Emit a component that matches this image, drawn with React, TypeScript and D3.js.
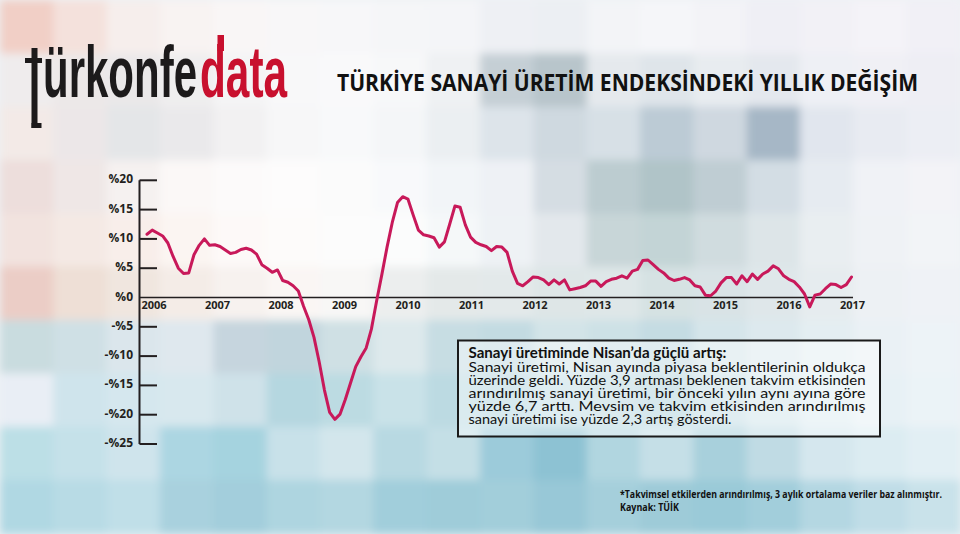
import React from "react";
import * as d3 from "d3";

// Monthly year-on-year change (%), Jan 2006 – Apr 2017
const values: number[] = [
  10.8, 11.5, 11.0, 10.5, 9.3, 7.0, 5.0, 4.1, 4.2, 7.3, 8.9, 10.0,
  8.9, 9.0, 8.7, 8.1, 7.5, 7.7, 8.2, 8.4, 8.1, 7.4, 5.6, 5.0,
  4.3, 4.7, 2.9, 2.6, 2.0, 1.1, -1.5, -3.8, -6.8, -11.0, -15.8, -19.6,
  -20.8, -19.9, -17.4, -14.6, -11.8, -10.1, -8.6, -5.4, -0.6, 3.9, 8.6, 12.8,
  16.2, 17.2, 16.8, 14.1, 11.5, 10.7, 10.5, 10.2, 8.6, 9.5, 12.5, 15.6,
  15.4, 12.4, 10.3, 9.4, 9.0, 8.7, 8.0, 8.7, 8.6, 7.7, 4.5, 2.4,
  2.0, 2.7, 3.5, 3.4, 3.0, 2.2, 3.0, 2.3, 3.0, 1.3, 1.5, 1.7,
  2.0, 2.8, 2.8, 1.9, 2.7, 3.1, 3.3, 3.7, 3.3, 4.5, 4.8, 6.3,
  6.4, 5.6, 4.8, 4.2, 3.3, 2.9, 3.1, 3.4, 3.0, 2.0, 1.8, 0.4,
  0.3, 1.1, 2.5, 3.4, 3.4, 2.3, 3.7, 2.7, 4.0, 3.1, 4.0, 4.5,
  5.4, 4.9, 3.7, 3.1, 2.7, 1.8, 0.6, -1.6, 0.4, 0.6, 1.5, 2.3,
  2.2, 1.7, 2.2, 3.5,
];

const yearLabels: number[] = [2006, 2007, 2008, 2009, 2010, 2011, 2012, 2013, 2014, 2015, 2016, 2017];
const yTicks: number[] = [20, 15, 10, 5, 0, -5, -10, -15, -20, -25];

const title = "TÜRKİYE SANAYİ ÜRETİM ENDEKSİNDEKİ YILLIK DEĞİŞİM";
const boxHeading = "Sanayi üretiminde Nisan’da güçlü artış:";
const boxLines: string[] = [
  "Sanayi üretimi, Nisan ayında piyasa beklentilerinin oldukça",
  "üzerinde geldi. Yüzde 3,9 artması beklenen takvim etkisinden",
  "arındırılmış sanayi üretimi, bir önceki yılın aynı ayına göre",
  "yüzde 6,7 arttı. Mevsim ve takvim etkisinden arındırılmış",
  "sanayi üretimi ise yüzde 2,3 artış gösterdi.",
];
const footnote = "*Takvimsel etkilerden arındırılmış, 3 aylık ortalama veriler baz alınmıştır.";
const source = "Kaynak: TÜİK";

// Decorative mosaic background colours (10 rows x 18 columns)
const mosaic: string[][] = [
  ["#f1cfc6","#f4e1dc","#f6eeec","#f8f3f2","#f9f6f6","#f8f7f8","#f7f7f9","#f5f6f8","#f4f5f8","#eef0f4","#eceff3","#f3f4f7","#f5f6f9","#f3f3f7","#efeff5","#f2f1f6","#f4f3f8","#f1f0f6"],
  ["#efeced","#ece8e8","#eae8e9","#efeeef","#f4f4f5","#f8f8f9","#f9f9fa","#f7f8f9","#eff1f3","#c5cfd5","#b8c5cb","#e5e9ed","#dfe5ea","#e8ecf0","#e4e8ee","#eef0f5","#f0f0f5","#eeeef4"],
  ["#f3eae7","#ece7e8","#e4e6e8","#eae9eb","#f2f1f2","#f7f7f8","#f8f9fa","#f4f6f8","#ebeff2","#dde4ea","#cfd9e0","#d7e0e6","#bccbd5","#cfd8e0","#a6b7c6","#e1e6ee","#e8ebf2","#eceef4"],
  ["#eddedc","#efe7e6","#f5f1f0","#fbf8f7","#fcfafa","#fdfcfc","#fbfbfb","#f8f9fb","#f2f5f8","#eef1f5","#d5dde3","#bcccd0","#b0c4c8","#bfcdd3","#d3dde4","#e6ebf1","#f0f2f6","#f3f3f7"],
  ["#f2e3df","#f4e9e4","#f8eeea","#fbf5f2","#fdf9f8","#fdfbfa","#fcfcfc","#fbfcfc","#f5f8f9","#eef2f5","#e3e8ec","#c8d6d8","#c3d4d6","#d0dcdf","#dde5e8","#e9eef1","#eff2f5","#f2f4f7"],
  ["#ebcdc6","#eedfd6","#f0e6df","#f4ece7","#f7f2ef","#faf6f4","#f8f7f6","#eceeee","#e4e9e9","#e3e9ea","#dee6e7","#dfe7e8","#d6e2e3","#d9e3e6","#dfe7ea","#e6ecef","#edf1f4","#eff2f6"],
  ["#c9dcdf","#cfe0e5","#dbe6ec","#dfe8ee","#c6d5de","#c1d5dd","#cfe0e4","#dde9ec","#c7dde3","#c3dbe2","#d3e4e8","#cde1e6","#c5dce3","#d5e5ea","#dde9ee","#e4eef2","#eaf1f5","#edf3f7"],
  ["#e9eef5","#cfe4ec","#d5e7ee","#d8e8ee","#cfe2e9","#b5d7e0","#bcdbe2","#c9e2e8","#bcdae2","#b7d7e0","#c4dee5","#bdd9e1","#b5d5de","#c7dfe6","#d4e6ec","#dfedf2","#e7f1f5","#ebf3f7"],
  ["#bcdfe6","#c5e1e9","#cfe4ec","#acd6e2","#a5d3df","#c8e1e9","#d3e6ec","#b8d9e2","#c4dfe6","#9ccbda","#8dc2d3","#b1d6e0","#c5dfe7","#a8d0dc","#c0dbe4","#d5e7ee","#dcecf2","#e2eff4"],
  ["#b0d8e3","#b8dbe5","#c0dfe8","#a9d1de","#a3cedc","#aed5e0","#b3d7e1","#a1cedb","#9fccd9","#a2ceda","#98c8d7","#a5cfdb","#9ecbd8","#9acad8","#a2cedb","#b4d7e2","#c0dde7","#c9e2ea"],
];

export default function App() {
  const W = 960, H = 534;
  const cell = W / 18;

  const x = d3.scaleLinear().domain([0, values.length - 1]).range([147, 851.5]);
  const xYear = d3.scaleLinear().domain([2006, 2017]).range([154, 852.5]);
  const y = d3.scaleLinear().domain([-25, 20]).range([444, 180.3]);

  const line = d3
    .line<number>()
    .x((_, i) => x(i))
    .y((d) => y(d))
    .curve(d3.curveLinear);

  const axisX = 139.5;
  const dark = "#231f20";
  const font = "'Open Sans', 'Noto Sans', sans-serif";
  const logoFont = "'Liberation Sans Narrow', 'Liberation Sans', Arial, sans-serif";

  return (
    <svg
      width={W}
      height={H}
      viewBox={`0 0 ${W} ${H}`}
      style={{ position: "absolute", left: 0, top: 0, display: "block" }}
    >
      <defs>
        <filter id="soft" x="-5%" y="-5%" width="110%" height="110%">
          <feGaussianBlur stdDeviation="4" />
        </filter>
      </defs>
      <rect x={0} y={0} width={W} height={H} fill="#eef2f5" />
      <g filter="url(#soft)">
        {mosaic.map((row, r) =>
          row.map((c, k) => (
            <rect key={`${r}-${k}`} x={k * cell} y={r * cell} width={cell + 1} height={cell + 1} fill={c} />
          ))
        )}
      </g>

      {/* Logo */}
      <g fill="#1c1a1b">
        <rect x={31.5} y={48} width={6} height={80} />
        <rect x={25} y={58} width={17} height={5} />
        <rect x={31.5} y={123} width={10} height={5} />
      </g>
      <text
        x={43}
        y={97}
        fontFamily={logoFont}
        fontWeight="bold"
        fontSize={72}
        fill="#1c1a1b"
        textLength={154}
        lengthAdjust="spacingAndGlyphs"
      >
        ürkonfe
      </text>
      <text
        x={200}
        y={97}
        fontFamily={logoFont}
        fontWeight="bold"
        fontSize={72}
        fill="#c8102e"
        textLength={87}
        lengthAdjust="spacingAndGlyphs"
      >
        data
      </text>
      <rect x={217.5} y={35} width={6.5} height={16} fill="#c8102e" />

      {/* Title */}
      <text
        x={337}
        y={91}
        fontFamily={font}
        fontWeight="bold"
        fontSize={24}
        fill="#111"
        textLength={581}
        lengthAdjust="spacingAndGlyphs"
      >
        {title}
      </text>

      {/* Y axis */}
      <line x1={axisX} x2={axisX} y1={y(20)} y2={y(-25)} stroke={dark} strokeWidth={2} />
      {yTicks.map((t) => (
        <g key={t}>
          {t !== 0 && (
            <line x1={axisX} x2={157} y1={y(t)} y2={y(t)} stroke={dark} strokeWidth={2} />
          )}
          <text
            x={133}
            y={y(t)}
            dy="0.25em"
            textAnchor="end"
            fontFamily={font}
            fontWeight="bold"
            fontSize={12}
            fill={dark}
          >
            {t < 0 ? `-%${-t}` : `%${t}`}
          </text>
        </g>
      ))}
      {/* Zero line */}
      <line x1={axisX} x2={853} y1={y(0)} y2={y(0)} stroke={dark} strokeWidth={1.6} />

      {/* X labels */}
      {yearLabels.map((yr) => (
        <text
          key={yr}
          x={xYear(yr)}
          y={309}
          textAnchor="middle"
          fontFamily={font}
          fontWeight="bold"
          fontSize={11}
          fill={dark}
        >
          {yr}
        </text>
      ))}

      {/* Series */}
      <path
        d={line(values) || ""}
        fill="none"
        stroke="#c8195a"
        strokeWidth={3}
        strokeLinejoin="round"
        strokeLinecap="round"
      />

      {/* Text box */}
      <rect x={458} y={340.5} width={422} height={96} fill="rgba(255,255,255,0.45)" stroke="#1a1a1a" strokeWidth={2} />
      <text
        x={468.5}
        y={358.3}
        fontFamily="Lato, 'Open Sans', sans-serif"
        fontWeight="bold"
        fontSize={14.5}
        fill="#111"
        textLength={258}
        lengthAdjust="spacingAndGlyphs"
      >
        {boxHeading}
      </text>
      {boxLines.map((ln, i) => (
        <text
          key={i}
          x={468.5}
          y={371.5 + i * 13.2}
          fontFamily="Lato, 'Open Sans', sans-serif"
          fontSize={14}
          fill="#111"
          textLength={i < boxLines.length - 1 ? 397 : 263}
          lengthAdjust="spacingAndGlyphs"
        >
          {ln}
        </text>
      ))}

      {/* Footnote */}
      <text
        x={620}
        y={497.5}
        fontFamily={font}
        fontWeight="bold"
        fontSize={10}
        fill="#111"
        textLength={322}
        lengthAdjust="spacingAndGlyphs"
      >
        {footnote}
      </text>
      <text
        x={620}
        y={511}
        fontFamily={font}
        fontWeight="bold"
        fontSize={10}
        fill="#111"
        textLength={59}
        lengthAdjust="spacingAndGlyphs"
      >
        {source}
      </text>
    </svg>
  );
}
